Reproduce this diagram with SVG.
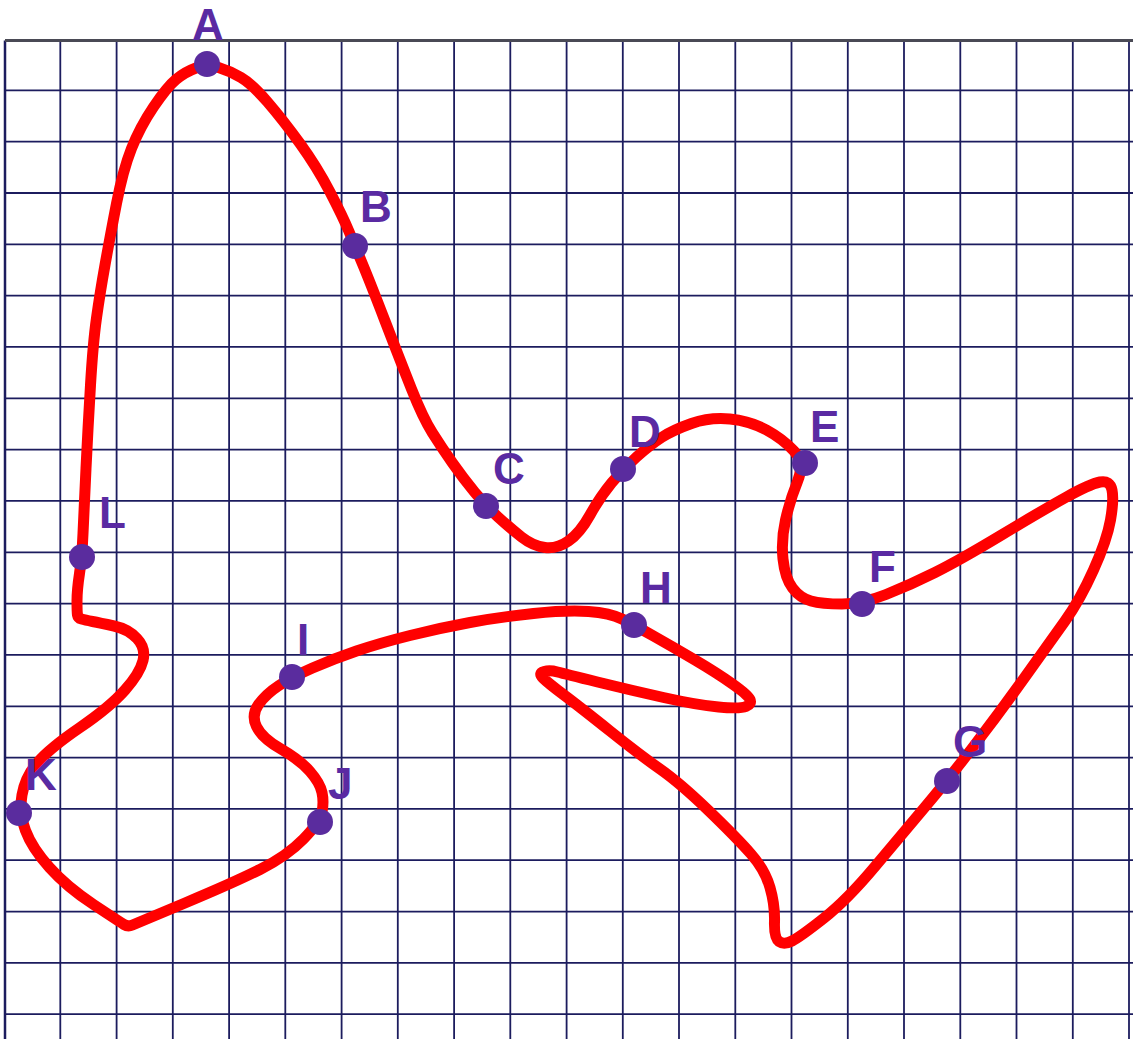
<svg xmlns="http://www.w3.org/2000/svg" width="1133" height="1039" viewBox="0 0 1133 1039">
<style>
.grid line{stroke:#1c1c5e;stroke-width:1.8}
.curve{fill:none;stroke:#ff0000;stroke-width:11;stroke-linejoin:round;stroke-linecap:round}
.dot{fill:#5a2c9e}
.lbl{font-family:"Liberation Sans",Arial,sans-serif;font-weight:bold;font-size:44px;fill:#5a2aa2}
</style>
<rect x="0" y="0" width="1133" height="1039" fill="#ffffff"/>
<g id="grid" class="grid">
<line x1="5" y1="40.5" x2="5" y2="1039" style="stroke-width:2.5"/>
<line x1="60.3" y1="40.5" x2="60.3" y2="1039"/>
<line x1="116.6" y1="40.5" x2="116.6" y2="1039"/>
<line x1="172.8" y1="40.5" x2="172.8" y2="1039"/>
<line x1="229.1" y1="40.5" x2="229.1" y2="1039"/>
<line x1="285.3" y1="40.5" x2="285.3" y2="1039"/>
<line x1="341.6" y1="40.5" x2="341.6" y2="1039"/>
<line x1="397.8" y1="40.5" x2="397.8" y2="1039"/>
<line x1="454.1" y1="40.5" x2="454.1" y2="1039"/>
<line x1="510.3" y1="40.5" x2="510.3" y2="1039"/>
<line x1="566.6" y1="40.5" x2="566.6" y2="1039"/>
<line x1="622.8" y1="40.5" x2="622.8" y2="1039"/>
<line x1="679" y1="40.5" x2="679" y2="1039"/>
<line x1="735.3" y1="40.5" x2="735.3" y2="1039"/>
<line x1="791.5" y1="40.5" x2="791.5" y2="1039"/>
<line x1="847.8" y1="40.5" x2="847.8" y2="1039"/>
<line x1="904" y1="40.5" x2="904" y2="1039"/>
<line x1="960.3" y1="40.5" x2="960.3" y2="1039"/>
<line x1="1016.5" y1="40.5" x2="1016.5" y2="1039"/>
<line x1="1072.8" y1="40.5" x2="1072.8" y2="1039"/>
<line x1="1129" y1="40.5" x2="1129" y2="1039"/>
<line x1="5" y1="90.3" x2="1133" y2="90.3"/>
<line x1="5" y1="141.6" x2="1133" y2="141.6"/>
<line x1="5" y1="193" x2="1133" y2="193"/>
<line x1="5" y1="244.3" x2="1133" y2="244.3"/>
<line x1="5" y1="295.6" x2="1133" y2="295.6"/>
<line x1="5" y1="346.9" x2="1133" y2="346.9"/>
<line x1="5" y1="398.3" x2="1133" y2="398.3"/>
<line x1="5" y1="449.6" x2="1133" y2="449.6"/>
<line x1="5" y1="500.9" x2="1133" y2="500.9"/>
<line x1="5" y1="552.3" x2="1133" y2="552.3"/>
<line x1="5" y1="603.6" x2="1133" y2="603.6"/>
<line x1="5" y1="654.9" x2="1133" y2="654.9"/>
<line x1="5" y1="706.3" x2="1133" y2="706.3"/>
<line x1="5" y1="757.6" x2="1133" y2="757.6"/>
<line x1="5" y1="808.9" x2="1133" y2="808.9"/>
<line x1="5" y1="860.2" x2="1133" y2="860.2"/>
<line x1="5" y1="911.6" x2="1133" y2="911.6"/>
<line x1="5" y1="962.9" x2="1133" y2="962.9"/>
<line x1="5" y1="1014.2" x2="1133" y2="1014.2"/>
<line x1="5" y1="40.5" x2="1133" y2="40.5" style="stroke:#4a4a55;stroke-width:3"/>
</g>
<g id="connectors">
<path class="curve" d="M196 68 Q207 64 218.5 67.5 Q230 71 241 77.5 Q252 84 267.5 102 Q283 120 300 143.5 Q317 167 330 192 Q343 217 349 231.5 Q355 246 362.5 264 Q370 282 385 321 Q400 360 411.5 389 Q423 418 432.5 433 Q442 448 452.5 463 Q463 478 474.5 492 Q486 506 498 517 Q510 528 521.5 537 Q533 546 545 547.5 Q557 549 568.5 541 Q580 533 590 515 Q600 497 611.5 483 Q623 469 636.5 457 Q650 445 661.5 437.5 Q673 430 691.5 423.5 Q710 417 730 419 Q750 421 766.5 430 Q783 439 794 451 Q805 463 797.5 481.5 Q790 500 785.5 520 Q781 540 783 559 Q785 578 792.5 588 Q800 598 811 601 Q822 604 842 604 Q862 604 886 594.5 Q910 585 935 572.5 Q960 560 1001.5 535 Q1043 510 1066.5 497 Q1090 484 1100 482 Q1110 480 1112 490 Q1114 500 1110.5 520 Q1107 540 1093.5 570 Q1080 600 1065 621 Q1050 642 1025 677 Q1000 712 973.5 746.5 Q947 781 925 807 Q903 833 875 866.5 Q847 900 823.5 918.5 Q800 937 792 941 Q784 945 779 941.5 Q774 938 774.5 921.5 Q775 905 770 887.5 Q765 870 751 854 Q737 838 708.5 810.5 Q680 783 660 769 Q640 755 610 731 Q580 707 564 695 Q548 683 543 678 Q538 673 544 671.5 Q550 670 557.5 672 Q565 674 597.5 682 Q630 690 663.5 697.5 Q697 705 718.5 707 Q740 709 746 706.5 Q752 704 750 699.5 Q748 695 732.5 684 Q717 673 695 660 Q673 647 653.5 636 Q634 625 622 619 Q610 613 588.5 611.5 Q567 610 533.5 613.5 Q500 617 470 622.5 Q440 628 410 635.5 Q380 643 356.5 651 Q333 659 312.5 668 Q292 677 279 685.5 Q266 694 258.5 704.5 Q251 715 256.5 726.5 Q262 738 281 749 Q300 760 310 771.5 Q320 783 322 792.5 Q324 802 322 812 Q320 822 303.5 839 Q287 856 260 869.5 Q233 883 185 903 Q137 923 132.5 925 Q128 927 124 924.5 Q120 922 93.5 904.5 Q67 887 49.5 867.5 Q32 848 25.5 830.5 Q19 813 22 795 Q25 777 37.5 762.5 Q50 748 80 727.5 Q110 707 125 690 Q140 673 143 660.5 Q146 648 137 638.5 Q128 629 114 626 Q100 623 92.5 621.5 Q85 620 81.5 619 Q78 618 77.5 615 Q77 612 77 601 Q77 590 79.5 573.5 Q82 557 83 533.5 Q84 510 86 468.5 Q88 427 90.5 385 Q93 343 96.5 318 Q100 293 105 265 Q110 237 116.5 203.5 Q123 170 131.5 148.5 Q140 127 153.5 107 Q167 87 176 79.5 Q185 72 196 68 Z"/>
</g>
<g id="node-A"><circle class="dot" cx="207" cy="64" r="13"/><text class="lbl" x="192" y="40">A</text></g>
<g id="node-B"><circle class="dot" cx="355" cy="246" r="13"/><text class="lbl" x="360" y="222">B</text></g>
<g id="node-C"><circle class="dot" cx="486" cy="506" r="13"/><text class="lbl" x="493" y="484">C</text></g>
<g id="node-D"><circle class="dot" cx="623" cy="469" r="13"/><text class="lbl" x="629" y="447">D</text></g>
<g id="node-E"><circle class="dot" cx="805" cy="463" r="13"/><text class="lbl" x="810" y="442">E</text></g>
<g id="node-F"><circle class="dot" cx="862" cy="604" r="13"/><text class="lbl" x="869" y="582">F</text></g>
<g id="node-G"><circle class="dot" cx="947" cy="781" r="13"/><text class="lbl" x="953" y="757">G</text></g>
<g id="node-H"><circle class="dot" cx="634" cy="625" r="13"/><text class="lbl" x="640" y="603">H</text></g>
<g id="node-I"><circle class="dot" cx="292" cy="677" r="13"/><text class="lbl" x="297" y="655">I</text></g>
<g id="node-J"><circle class="dot" cx="320" cy="822" r="13"/><text class="lbl" x="328" y="799">J</text></g>
<g id="node-K"><circle class="dot" cx="19" cy="813" r="13"/><text class="lbl" x="25" y="790">K</text></g>
<g id="node-L"><circle class="dot" cx="82" cy="557" r="13"/><text class="lbl" x="99" y="528">L</text></g>
</svg>
